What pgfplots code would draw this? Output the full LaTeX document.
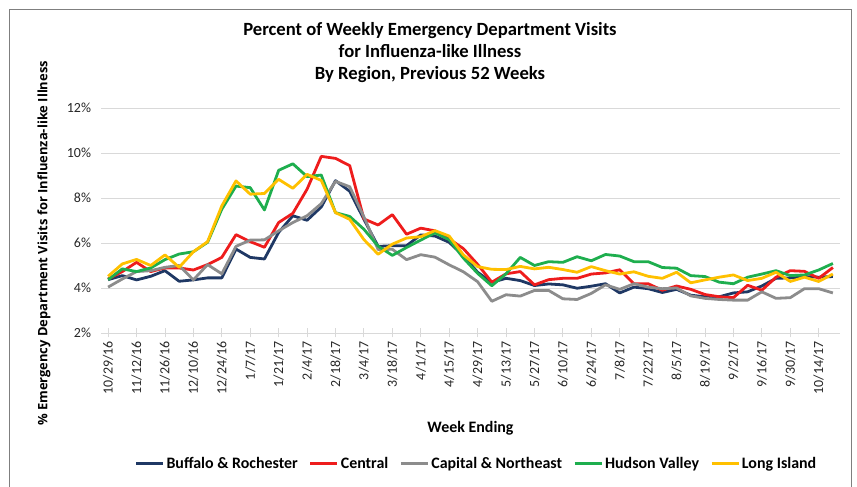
\documentclass[border=0pt]{standalone}
\usepackage{pgfplots}
\pgfplotsset{compat=1.18}
\usepackage{pgfplotstable}
\usepackage{fontspec}
\setmainfont{Carlito}
\newfontfamily\yfont{Open Sans}
\definecolor{cblue}{HTML}{1F3864}
\definecolor{cred}{HTML}{EE1C1C}
\definecolor{cgray}{HTML}{8C8C8C}
\definecolor{cgreen}{HTML}{1EAE4E}
\definecolor{cyellow}{HTML}{FFC000}
\definecolor{gridgray}{HTML}{D9D9D9}
\definecolor{bordergray}{HTML}{7F7F7F}
\pgfplotstableread{
i buf cen cap hud lon
0 4.37 4.40 4.04 4.37 4.52
1 4.55 4.73 4.40 4.85 5.07
2 4.36 5.14 4.73 4.73 5.27
3 4.52 4.73 4.77 4.89 5.00
4 4.77 4.89 4.92 5.26 5.47
5 4.30 4.89 5.00 5.51 4.92
6 4.36 4.80 4.36 5.61 5.61
7 4.45 5.04 5.04 6.03 6.06
8 4.45 5.36 4.63 7.50 7.65
9 5.73 6.37 5.85 8.53 8.76
10 5.36 6.06 6.13 8.46 8.17
11 5.29 5.81 6.14 7.47 8.20
12 6.47 6.91 6.54 9.23 8.83
13 7.21 7.32 6.91 9.52 8.43
14 7.01 8.39 7.21 8.95 9.05
15 7.60 9.85 7.75 9.02 8.78
16 8.77 9.76 8.74 7.35 7.35
17 8.30 9.44 8.50 7.18 7.05
18 7.05 7.07 7.16 6.61 6.15
19 5.85 6.80 5.71 5.86 5.50
20 5.88 7.26 5.72 5.45 5.95
21 5.88 6.39 5.26 5.80 6.22
22 6.36 6.66 5.48 6.13 6.28
23 6.31 6.54 5.37 6.45 6.55
24 6.03 6.18 5.03 6.15 6.31
25 5.43 5.75 4.72 5.33 5.47
26 4.70 5.05 4.28 4.65 4.95
27 4.25 4.26 3.41 4.10 4.83
28 4.43 4.63 3.70 4.63 4.82
29 4.33 4.73 3.64 5.36 4.96
30 4.11 4.14 3.89 5.00 4.85
31 4.18 4.37 3.89 5.17 4.92
32 4.14 4.43 3.52 5.14 4.82
33 3.99 4.43 3.49 5.39 4.70
34 4.08 4.62 3.76 5.21 4.95
35 4.19 4.67 4.14 5.49 4.77
36 3.78 4.81 3.94 5.42 4.62
37 4.04 4.19 4.19 5.17 4.72
38 3.97 4.19 4.04 5.17 4.52
39 3.80 3.90 3.97 4.91 4.43
40 3.94 4.09 4.00 4.88 4.70
41 3.68 3.94 3.65 4.55 4.23
42 3.61 3.71 3.54 4.51 4.36
43 3.61 3.61 3.49 4.26 4.48
44 3.78 3.57 3.46 4.19 4.58
45 3.83 4.12 3.46 4.48 4.33
46 4.09 3.90 3.83 4.62 4.43
47 4.43 4.48 3.54 4.77 4.70
48 4.45 4.77 3.57 4.55 4.29
49 4.51 4.74 3.97 4.58 4.48
50 4.48 4.43 3.97 4.80 4.29
51 4.51 4.91 3.78 5.09 4.62
}\datatable
\begin{document}
\begin{tikzpicture}
\useasboundingbox (0bp,0bp) rectangle (857bp,487bp);
\draw[bordergray, line width=0.9bp] (9.3bp,-2bp) -- (9.3bp,477.7bp) -- (851.7bp,477.7bp) -- (851.7bp,-2bp);
\node[align=center, font=\fontsize{18.7}{22.5}\selectfont\bfseries] at (430bp,434.5bp) {Percent of Weekly Emergency Department Visits\\for Influenza-like Illness\\By Region, Previous 52 Weeks};
\begin{axis}[
  at={(101bp,154bp)}, anchor=south west,
  scale only axis, width=739bp, height=225bp,
  xmin=-0.5, xmax=51.5, ymin=2, ymax=12,
  xtick={0,2,...,50},
  xticklabels={10/29/16,11/12/16,11/26/16,12/10/16,12/24/16,1/7/17,1/21/17,2/4/17,2/18/17,3/4/17,3/18/17,4/1/17,4/15/17,4/29/17,5/13/17,5/27/17,6/10/17,6/24/17,7/8/17,7/22/17,8/5/17,8/19/17,9/2/17,9/16/17,9/30/17,10/14/17},
  ytick={2,4,...,12},
  yticklabels={2\%,4\%,6\%,8\%,10\%,12\%},
  ymajorgrids, grid style={gridgray, line width=0.9bp},
  axis x line*=bottom, axis y line*=left,
  x axis line style={gridgray, line width=0.9bp, -},
  y axis line style={draw=none},
  ytick style={draw=none},
  xtick style={gridgray, line width=0.9bp},
  major tick length=9bp, tick align=center,
  tick label style={font=\fontsize{14}{16}\selectfont, text=black!85},
  xticklabel style={rotate=90, anchor=east},
  yticklabel style={xshift=-2bp},
  xlabel={Week Ending},
  xlabel style={font=\fontsize{16}{19}\selectfont\bfseries, at={(axis description cs:0.5,-0.422)}, anchor=center},
  ylabel={\% Emergency Department Visits for Influenza-like Illness},
  ylabel style={font=\yfont\fontsize{13}{16}\selectfont\bfseries, at={(axis description cs:-0.0771,0.398)}, anchor=center},
  legend columns=5,
  legend style={draw=none, at={(axis description cs:0.508,-0.582)}, anchor=center, font=\fontsize{16}{19}\selectfont\bfseries, /tikz/every even column/.append style={column sep=9bp}},
  legend image code/.code={\draw[#1, line width=3bp] (0bp,0bp) -- (27bp,0bp);},
  every axis plot/.append style={line width=2.8bp, line join=round},
]
\addplot[cblue] table[x=i, y=buf] {\datatable};
\addlegendentry{Buffalo \& Rochester}
\addplot[cred] table[x=i, y=cen] {\datatable};
\addlegendentry{Central}
\addplot[cgray] table[x=i, y=cap] {\datatable};
\addlegendentry{Capital \& Northeast}
\addplot[cgreen] table[x=i, y=hud] {\datatable};
\addlegendentry{Hudson Valley}
\addplot[cyellow] table[x=i, y=lon] {\datatable};
\addlegendentry{Long Island}
\end{axis}
\end{tikzpicture}
\end{document}
